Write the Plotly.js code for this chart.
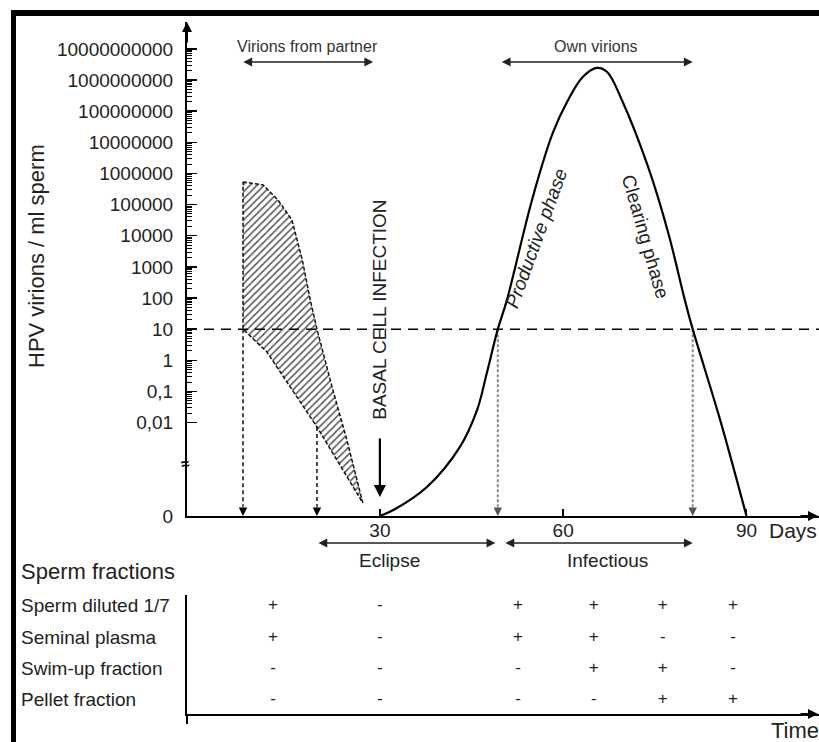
<!DOCTYPE html>
<html><head><meta charset="utf-8">
<script src="https://cdn.plot.ly/plotly-3.0.1.min.js"></script>
<style>html,body{margin:0;padding:0;background:#fff}#chart{width:819px;height:742px}</style>
</head><body><div id="chart"></div>
<script>
// All y values are log10(HPV virions / ml sperm). "0 virions" is drawn at ZERO_LEVEL, below the axis break.
const ZERO_LEVEL = -5;
const BREAK_LEVEL = -3.30;
const THRESHOLD_LOG = 1;              // 10 virions / ml

// Own virions curve (day, log10 value)
const ownDays = [30, 32.2, 37.7, 43.1, 45.9, 47.5, 49.3, 50.8, 54.9, 58.3, 60.8, 63.2, 65.5, 67.2, 69.6, 73.9, 77.2, 79.9, 81.2, 85.7, 90];
const ownLog  = [-5, -4.81, -4.07, -2.78, -1.6, -0.41, 1.0, 1.94, 5.15, 7.30, 8.36, 9.10, 9.39, 9.26, 8.36, 6.21, 4.09, 1.94, 1.0, -1.92, -5];

// Virions from partner (hatched band)
const partnerUpperDays = [7.6, 10.9, 13.3, 15.6, 17.3, 18.6, 19.7, 22.3, 24.6, 27.2];
const partnerUpperLog  = [5.73, 5.63, 5.15, 4.51, 3.22, 1.94, 1.0, -0.95, -2.56, -4.58];
const partnerLowerDays = [7.6, 11.5, 19.7, 27.2];
const partnerLowerLog  = [1.0, 0.27, -2.14, -4.58];

// Drop-down arrows to the time axis
const dropDays    = [7.6, 19.7, 49.3, 81.2];
const dropFromLog = [1.0, -2.14, 1.0, 1.0];
const dropGray    = [false, false, true, true];

// Period arrows
const partnerRange = [7.4, 28.9];
const ownRange     = [49.7, 81.2];
const eclipseRange = [19.7, 48.9];
const infectRange  = [50.3, 81.2];
const infectionDay = 30;

// Axis ticks
const yTickVals = [-5, -2, -1, 0, 1, 2, 3, 4, 5, 6, 7, 8, 9, 10];
const yTickText = ['0', '0,01', '0,1', '1', '10', '100', '1000', '10000', '100000', '1000000', '10000000', '100000000', '1000000000', '10000000000'];
const xTickVals = [30, 60, 90];

// Sperm fractions table
const fractionNames = ['Sperm diluted 1/7', 'Seminal plasma', 'Swim-up fraction', 'Pellet fraction'];
const sampleDays = [12.5, 30, 52.6, 65.0, 76.3, 87.8];
const results = [
  ['+', '-', '+', '+', '+', '+'],
  ['+', '-', '+', '+', '-', '-'],
  ['-', '-', '-', '+', '+', '-'],
  ['-', '-', '-', '-', '+', '+']
];

const FONT = 'Liberation Sans, Arial, sans-serif';
const TXT = '#222';

// minor ticks
const minorVals = [];
for (let p = -2; p < 10; p++) for (let k = 2; k <= 9; k++) minorVals.push(p + Math.log10(k));

// hatched polygon
const polyX = partnerUpperDays.concat(partnerLowerDays.slice(0, -1).reverse(), [partnerUpperDays[0]]);
const polyY = partnerUpperLog.concat(partnerLowerLog.slice(0, -1).reverse(), [partnerUpperLog[0]]);

function dropTrace(gray) {
  const x = [], y = [];
  dropDays.forEach((d, i) => {
    if (dropGray[i] !== gray) return;
    x.push(d, d, null); y.push(dropFromLog[i], ZERO_LEVEL + 0.3, null);
  });
  return {x, y, mode: 'lines', xaxis: 'x', yaxis: 'y', hoverinfo: 'skip',
    line: gray ? {color: '#8a8a8a', width: 2, dash: '3px,2px'} : {color: '#111', width: 1.5, dash: '4px,3px'}};
}

const traces = [
  {x: polyX, y: polyY, mode: 'lines', fill: 'toself', xaxis: 'x', yaxis: 'y',
   fillcolor: 'white',
   fillpattern: {shape: '/', fgcolor: '#555', bgcolor: 'white', size: 5, solidity: 0.3},
   line: {color: '#111', width: 1.5, dash: '4px,2px'}, hoverinfo: 'skip'},
  dropTrace(false),
  dropTrace(true),
  {x: ownDays, y: ownLog, mode: 'lines', xaxis: 'x', yaxis: 'y',
   line: {color: '#000', width: 2.2, shape: 'spline', smoothing: 1}, hoverinfo: 'skip'}
];

// table symbols
results.forEach((row, r) => {
  traces.push({x: sampleDays, y: sampleDays.map(() => r), text: row, mode: 'text',
    xaxis: 'x2', yaxis: 'y2', textfont: {family: FONT, size: 17, color: TXT}, hoverinfo: 'skip'});
});

const pyPaper = py => (742 - py) / 720;
const pxPaper = px => (px - 187) / 632;

const ann = [];
const A = o => ann.push(Object.assign({xanchor: 'center', yanchor: 'middle', showarrow: false}, o));
// axis title
A({text: 'HPV virions / ml sperm', xref: 'paper', yref: 'paper', x: pxPaper(37), y: pyPaper(256),
  textangle: -90, font: {family: FONT, size: 22, color: TXT}});
// axis arrows
A({xref: 'paper', yref: 'paper', x: 0, y: 1, ax: 0, ay: 22, text: '', showarrow: true, arrowhead: 2, arrowsize: 1, arrowwidth: 2, arrowcolor: '#000'});
A({xref: 'paper', yref: 'paper', x: 1, y: pyPaper(516), ax: -20, ay: 0, text: '', showarrow: true, arrowhead: 2, arrowsize: 1, arrowwidth: 2, arrowcolor: '#000'});
A({xref: 'paper', yref: 'paper', x: 1, y: pyPaper(714), ax: -20, ay: 0, text: '', showarrow: true, arrowhead: 2, arrowsize: 1, arrowwidth: 2, arrowcolor: '#000'});
A({text: 'Days', xref: 'paper', yref: 'paper', x: pxPaper(767), y: pyPaper(530), xanchor: 'left', font: {family: FONT, size: 21, color: TXT}});
A({text: 'Time', xref: 'paper', yref: 'paper', x: pxPaper(769), y: pyPaper(730), xanchor: 'left', font: {family: FONT, size: 22, color: TXT}});
A({text: 'Sperm fractions', xref: 'paper', yref: 'paper', x: pxPaper(19), y: pyPaper(571), xanchor: 'left', font: {family: FONT, size: 22, color: TXT}});
fractionNames.forEach((n, i) => A({text: n, xref: 'paper', yref: 'y2', x: pxPaper(19), y: i, xanchor: 'left', font: {family: FONT, size: 19, color: TXT}}));
// axis break
A({text: '<b>≈</b>', xref: 'paper', yref: 'y', x: pxPaper(185), y: BREAK_LEVEL, textangle: -10, font: {family: FONT, size: 15, color: '#000'}});
// basal cell infection
A({text: 'BASAL CELL INFECTION', xref: 'x', yref: 'y', x: infectionDay, y: 1.62, textangle: -90, font: {family: FONT, size: 19, color: TXT}});
A({xref: 'x', yref: 'y', axref: 'x', ayref: 'y', x: infectionDay, y: -4.39, ax: infectionDay, ay: -2.46, text: '', showarrow: true, arrowhead: 2, arrowsize: 1.1, arrowwidth: 2.2, arrowcolor: '#000'});
// period arrows (top)
[[partnerRange, 'Virions from partner'], [ownRange, 'Own virions']].forEach(([r, t]) => {
  A({xref: 'x', yref: 'y', axref: 'x', ayref: 'y', x: r[1], y: 9.58, ax: r[0], ay: 9.58, text: '', showarrow: true, arrowside: 'end+start', arrowhead: 2, arrowsize: 1.1, arrowwidth: 1.6, arrowcolor: '#222'});
  A({text: t, xref: 'x', yref: 'y', x: (r[0] + r[1]) / 2, y: 10.09, font: {family: FONT, size: 16, color: '#333'}});
});
// period arrows (below axis)
[[eclipseRange, 'Eclipse', 31.5], [infectRange, 'Infectious', 67.3]].forEach(([r, t, c]) => {
  A({xref: 'x', yref: 'paper', axref: 'x', x: r[1], y: pyPaper(543), ax: r[0], ay: 0, text: '', showarrow: true, arrowside: 'end+start', arrowhead: 2, arrowsize: 1.1, arrowwidth: 1.6, arrowcolor: '#222'});
  A({text: t, xref: 'x', yref: 'paper', x: c, y: pyPaper(560), font: {family: FONT, size: 19, color: TXT}});
});
// drop arrowheads
dropDays.forEach((d, i) => A({xref: 'x', yref: 'y', x: d, y: ZERO_LEVEL, ax: 0, ay: -10, text: '', showarrow: true, arrowhead: 2, arrowsize: 1.4, arrowwidth: 1.2, arrowcolor: dropGray[i] ? '#555' : '#000'}));
// phase labels
A({text: '<i>Productive phase</i>', xref: 'x', yref: 'y', x: 55.7, y: 3.93, textangle: -70, font: {family: FONT, size: 19, color: TXT}});
A({text: 'Clearing phase', xref: 'x', yref: 'y', x: 73.4, y: 3.96, textangle: 74, font: {family: FONT, size: 19, color: TXT}});

const shapes = [
  {type: 'line', xref: 'paper', yref: 'y', x0: 0, x1: 1, y0: THRESHOLD_LOG, y1: THRESHOLD_LOG, line: {color: '#000', width: 1.5, dash: '10px,7px'}},
  {type: 'rect', xref: 'paper', yref: 'paper', x0: pxPaper(11), x1: 1.01, y0: pyPaper(16), y1: pyPaper(10), fillcolor: '#000', line: {width: 0}},
  {type: 'rect', xref: 'paper', yref: 'paper', x0: pxPaper(11), x1: pxPaper(16), y0: -0.01, y1: pyPaper(10), fillcolor: '#000', line: {width: 0}},
  {type: 'line', xref: 'paper', yref: 'paper', x0: 0, x1: 0, y0: pyPaper(724), y1: pyPaper(714), line: {color: '#000', width: 2}}
];

const xRange = [-1.57, 101.87];
const layout = {
  width: 819, height: 742, margin: {l: 187, r: 0, t: 22, b: 0},
  paper_bgcolor: '#fff', plot_bgcolor: 'rgba(0,0,0,0)', showlegend: false,
  font: {family: FONT, color: TXT},
  xaxis: {domain: [0, 1], anchor: 'y', range: xRange, showline: true, linewidth: 2, linecolor: '#000',
    ticks: 'inside', ticklen: 7, tickwidth: 1.5, tickcolor: '#000', tickmode: 'array', tickvals: xTickVals,
    ticktext: xTickVals.map(String), tickfont: {family: FONT, size: 19, color: TXT}, ticklabelstandoff: -4,
    showgrid: false, zeroline: false},
  yaxis: {domain: [pyPaper(516), 1], anchor: 'x', range: [ZERO_LEVEL, 10.864], showline: true, linewidth: 2, linecolor: '#000',
    ticks: 'inside', ticklen: 10, tickwidth: 1.5, tickcolor: '#000', tickmode: 'array', tickvals: yTickVals, ticktext: yTickText,
    minor: {tickmode: 'array', tickvals: minorVals, ticks: 'inside', ticklen: 5, tickwidth: 1, tickcolor: '#000', showgrid: false},
    tickfont: {family: FONT, size: 19, color: TXT}, ticklabelstandoff: 8, showgrid: false, zeroline: false},
  xaxis2: {domain: [0, 1], anchor: 'y2', range: xRange, showline: true, linewidth: 2, linecolor: '#000',
    showticklabels: false, ticks: '', showgrid: false, zeroline: false},
  yaxis2: {domain: [pyPaper(714), pyPaper(595)], anchor: 'x2', range: [3.45, -0.351], showline: true, linewidth: 2, linecolor: '#000',
    showticklabels: false, ticks: '', showgrid: false, zeroline: false},
  annotations: ann, shapes: shapes
};

Plotly.newPlot('chart', traces, layout, {displayModeBar: false, staticPlot: true});
</script>
</body></html>
